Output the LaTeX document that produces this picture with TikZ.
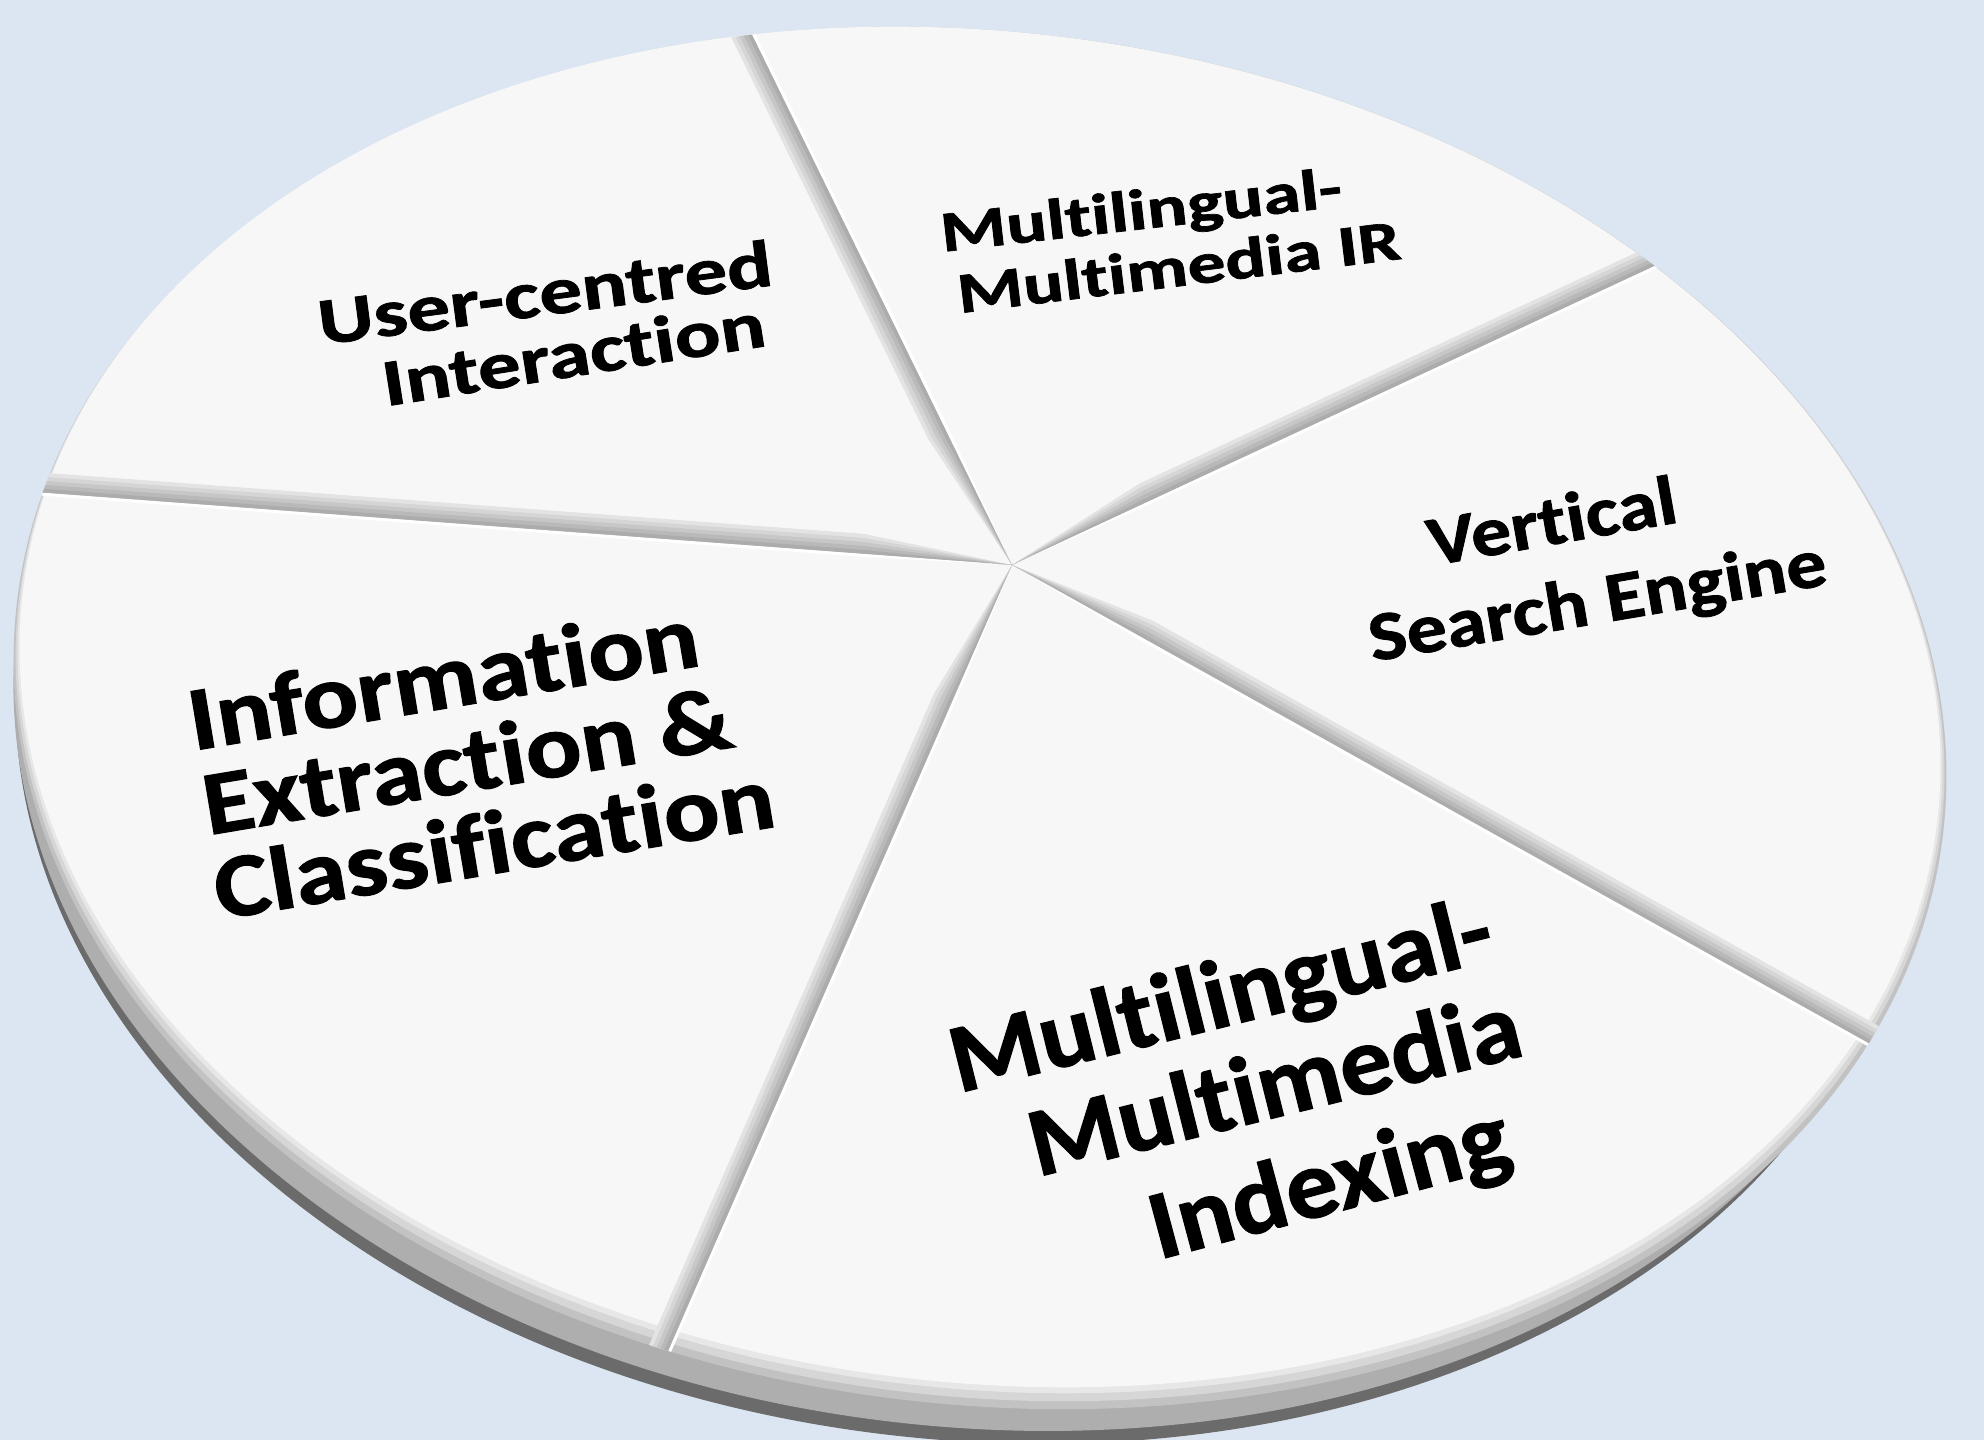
\documentclass[tikz,border=0pt]{standalone}
\usepackage{fontspec}
\setmainfont{Carlito}[Ligatures=NoCommon, BoldFeatures={FakeBold=1.2}]
\usetikzlibrary{calc}
\definecolor{bgblue}{HTML}{DCE6F2}
\definecolor{sidedark}{HTML}{6B6B6B}
\definecolor{sidemid}{HTML}{AEAEAE}
\definecolor{bevA}{HTML}{C2C2C2}
\definecolor{bevB}{HTML}{D6D6D6}
\definecolor{bevC}{HTML}{E7E7E7}
\definecolor{surfc}{HTML}{F7F7F7}
\definecolor{grA}{HTML}{E3E3E3}
\definecolor{grB}{HTML}{D5D5D5}
\definecolor{grC}{HTML}{C7C7C7}
\definecolor{grD}{HTML}{B9B9B9}
\definecolor{grE}{HTML}{ACACAC}
\newcommand\fs[1]{\fontsize{#1}{#1}\selectfont\bfseries}
\newcommand\mygroove[5]{%
  \foreach \ww/\gc in {20/grA,16/grB,12/grC,8/grD,4/grE}{%
    \fill[\gc] (C) -- (#1) -- ($(#1)+({\ww*(#4)},{\ww*(#5)})$)
      -- ($(C)+({150*(#2)+\ww*(#4)},{150*(#3)+\ww*(#5)})$) -- cycle;
  }%
  \fill[white] (C) -- (#1) -- ($(#1)+({-3*(#4)},{-3*(#5)})$)
    -- ($(C)+({150*(#2)-3*(#4)},{150*(#3)-3*(#5)})$) -- cycle;
}
\tikzset{
  surf/.style={rotate around={-7:(980,718)}},
  lbl/.style={inner sep=0pt, transform shape, anchor=base, text=black},
}
\begin{document}
\begin{tikzpicture}[x=0.01cm,y=-0.01cm]
\useasboundingbox (0,0) rectangle (1984,1440);
\fill[bgblue] (0,0) rectangle (1984,1440);
% disk side
\fill[sidedark, shift={(-16,37)}, surf] (980,718) ellipse [x radius=952, y radius=684];
\fill[sidemid, shift={(-12,23)}, surf] (980,718) ellipse [x radius=958, y radius=685];
% top surface with bevel
\fill[bevA, surf] (980,718) ellipse [x radius=970, y radius=686];
\fill[bevB, shift={(0,-4)}, surf] (980,718) ellipse [x radius=968, y radius=682];
\fill[bevC, shift={(0,-8)}, surf] (980,718) ellipse [x radius=966, y radius=678];
\fill[surfc, shift={(0,-11)}, surf] (980,718) ellipse [x radius=964, y radius=675];
% grooves
\coordinate (C) at (1012,565);
\coordinate (E1) at (745,20);
\coordinate (E2) at (33,492);
\coordinate (E3) at (1659,264);
\coordinate (E4) at (1886,1053);
\coordinate (E5) at (663,1363);
\begin{scope}
\clip[surf] (980,718) ellipse [x radius=970, y radius=686];
\mygroove{E1}{-0.439}{-0.899}{-0.899}{0.439}
\mygroove{E2}{-0.997}{-0.0745}{0.0745}{-0.997}
\mygroove{E3}{0.906}{-0.422}{-0.422}{-0.906}
\mygroove{E4}{0.873}{0.488}{0.488}{-0.873}
\mygroove{E5}{-0.401}{0.916}{-0.916}{-0.401}
\end{scope}
% labels
\coordinate (pa1) at (548,315);
\coordinate (pa2) at (577,376);
\coordinate (pb1) at (1143,229);
\coordinate (pb2) at (1181,286);
\coordinate (pc1) at (1556,544);
\coordinate (pc2) at (1601,623);
\coordinate (pd1) at (448,708);
\coordinate (pd2) at (472,791);
\coordinate (pd3) at (499,873);
\coordinate (pe1) at (1228,1026);
\coordinate (pe2) at (1282,1116);
\coordinate (pe3) at (1337,1212);
\node[lbl, font={\fs{24.2pt}}, rotate=7.5, yscale=0.78] (a1) at (pa1) {User-centred};
\node[lbl, font={\fs{24.2pt}}, rotate=9, yscale=0.78] (a2) at (pa2) {Interaction};
\node[lbl, font={\fs{21.5pt}}, rotate=6.5, yscale=0.76] (b1) at (pb1) {Multilingual-};
\node[lbl, font={\fs{21.5pt}}, rotate=7, yscale=0.76] (b2) at (pb2) {Multimedia IR};
\node[lbl, font={\fs{22.8pt}}, rotate=10, yscale=0.87] (c1) at (pc1) {Vertical};
\node[lbl, font={\fs{22.8pt}}, rotate=9.6, yscale=0.87] (c2) at (pc2) {Search Engine};
\node[lbl, font={\fs{29.6pt}}, rotate=9.5, yscale=0.87] (d1) at (pd1) {Information};
\node[lbl, font={\fs{29.6pt}}, rotate=9.5, yscale=0.87] (d2) at (pd2) {Extraction \&};
\node[lbl, font={\fs{29.6pt}}, rotate=9.5, yscale=0.87] (d3) at (pd3) {Classification};
\node[lbl, font={\fs{29.6pt}}, rotate=14, yscale=0.94] (e1) at (pe1) {Multilingual-};
\node[lbl, font={\fs{29.6pt}}, rotate=14, yscale=0.94] (e2) at (pe2) {Multimedia};
\node[lbl, font={\fs{29.6pt}}, rotate=15, yscale=0.94] (e3) at (pe3) {Indexing};
\end{tikzpicture}
\end{document}
